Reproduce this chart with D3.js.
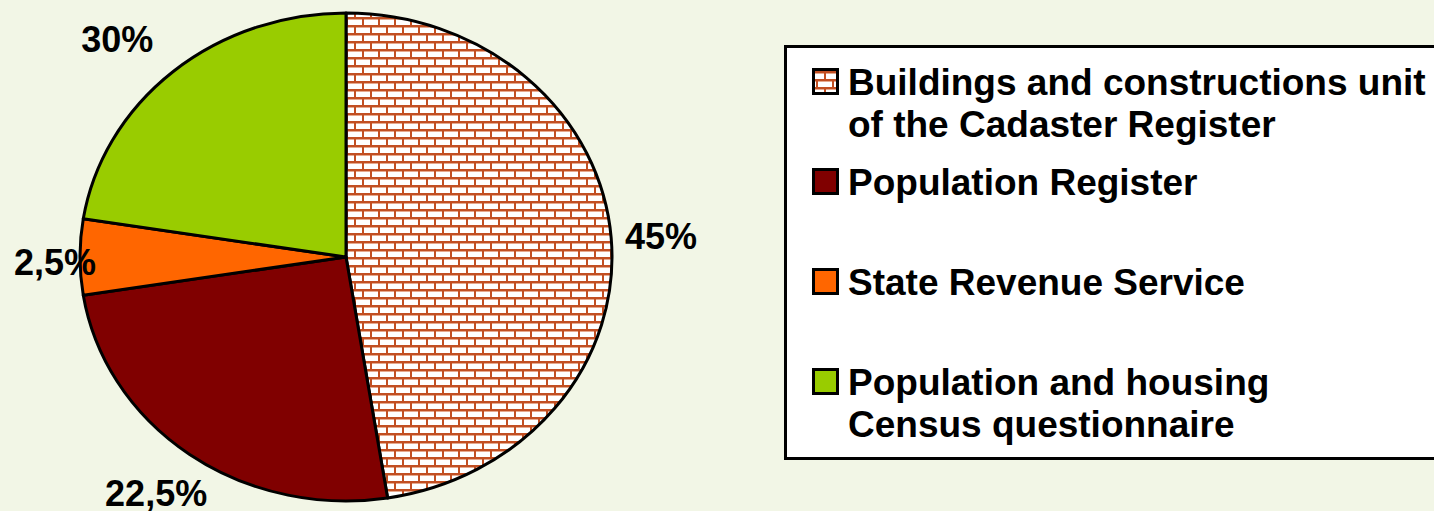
<!DOCTYPE html>
<html>
<head>
<meta charset="utf-8">
<script src="https://cdn.jsdelivr.net/npm/d3@7"></script>
<style>
  body { margin: 0; background: #f2f6e6; }
  svg { display: block; font-family: "Liberation Sans", Arial, sans-serif; font-weight: bold; }
</style>
</head>
<body>
<svg id="chart" width="1434" height="511"></svg>
<script>
// slice sizes as drawn, and the labels printed next to them
const sources = ['Buildings and constructions unit of the Cadaster Register', 'Population Register', 'State Revenue Service', 'Population and housing Census questionnaire'];
const shares = [47.5, 25, 5, 22.5];
const shareLabels = ['45%', '22,5%', '2,5%', '30%'];
const legendLines = [
    ['Buildings and constructions unit', 'of the Cadaster Register'],
    ['Population Register'],
    ['State Revenue Service'],
    ['Population and housing', 'Census questionnaire']
];
const fills = ['url(#bricks)', '#800000', '#ff6600', '#99cc00'];

// label nudges (px) after placing on the mid angle
const labelNudge = [[10, 2], [-10, 7], [15, 5], [-30, -2]];

const cx = 346, cy = 257, rx = 266, ry = 244;
const sx = rx / ry;

let svg = d3.select('#chart');
let defs = svg.append('defs');

function addBricks(id, scaleX){
    let p = defs.append('pattern')
        .attr('id', id)
        .attr('patternUnits', 'userSpaceOnUse')
        .attr('width', 16 / scaleX)
        .attr('height', 16);
    let w = 16 / scaleX;
    p.append('rect').attr('width', w).attr('height', 16).attr('fill', '#ffffff');
    // mortar
    p.append('rect').attr('x', 0).attr('y', 0).attr('width', w).attr('height', 2).attr('fill', '#c24f22');
    p.append('rect').attr('x', 0).attr('y', 8).attr('width', w).attr('height', 2).attr('fill', '#c24f22');
    p.append('rect').attr('x', 0).attr('y', 2).attr('width', w).attr('height', 1).attr('fill', '#e6a98e');
    p.append('rect').attr('x', 0).attr('y', 10).attr('width', w).attr('height', 1).attr('fill', '#e6a98e');
    p.append('rect').attr('x', 0).attr('y', 0).attr('width', 2 / scaleX).attr('height', 8).attr('fill', '#c24f22');
    p.append('rect').attr('x', w / 2).attr('y', 8).attr('width', 2 / scaleX).attr('height', 8).attr('fill', '#c24f22');
}
addBricks('bricks', sx);
addBricks('bricksLegend', 1);

let pie = d3.pie().sort(null).value(function(d){ return d; });
let arcs = pie(shares);
let arc = d3.arc().innerRadius(0).outerRadius(ry);

let g = svg.append('g')
    .attr('transform', 'translate(' + cx + ',' + cy + ') scale(' + sx + ',1)');

g.selectAll('path')
    .data(arcs)
    .enter().append('path')
    .attr('d', arc)
    .attr('fill', function(d, i){ return fills[i]; })
    .attr('stroke', '#000')
    .attr('stroke-width', 3)
    .attr('stroke-linejoin', 'round')
    .attr('vector-effect', 'non-scaling-stroke');

// percentage labels outside the pie
svg.append('g').selectAll('text')
    .data(arcs)
    .enter().append('text')
    .attr('x', function(d, i){
        let a = (d.startAngle + d.endAngle) / 2;
        return cx + Math.sin(a) * (rx + 40) + labelNudge[i][0];
    })
    .attr('y', function(d, i){
        let a = (d.startAngle + d.endAngle) / 2;
        return cy - Math.cos(a) * (ry + 40) + labelNudge[i][1];
    })
    .attr('text-anchor', 'middle')
    .attr('dominant-baseline', 'central')
    .attr('font-size', 36)
    .attr('fill', '#000')
    .text(function(d, i){ return shareLabels[i]; });

// legend
let legend = svg.append('g');
legend.append('rect')
    .attr('x', 785.5).attr('y', 46.5)
    .attr('width', 700).attr('height', 412)
    .attr('fill', '#ffffff')
    .attr('stroke', '#000')
    .attr('stroke-width', 3);

let items = legend.selectAll('g.item')
    .data(sources)
    .enter().append('g')
    .attr('class', 'item')
    .attr('transform', function(d, i){ return 'translate(0,' + (95 + i * 100) + ')'; });

items.append('rect')
    .attr('x', 813.5).attr('y', -25.5)
    .attr('width', 24).attr('height', 24)
    .attr('fill', function(d, i){ return i === 0 ? 'url(#bricksLegend)' : fills[i]; })
    .attr('stroke', '#000')
    .attr('stroke-width', 3);

items.each(function(d, i){
    let t = d3.select(this).append('text')
        .attr('x', 848)
        .attr('y', 0)
        .attr('font-size', 37)
        .attr('fill', '#000');
    legendLines[i].forEach(function(line, j){
        t.append('tspan').attr('x', 848).attr('dy', j === 0 ? 0 : 42).text(line);
    });
});
</script>
</body>
</html>
